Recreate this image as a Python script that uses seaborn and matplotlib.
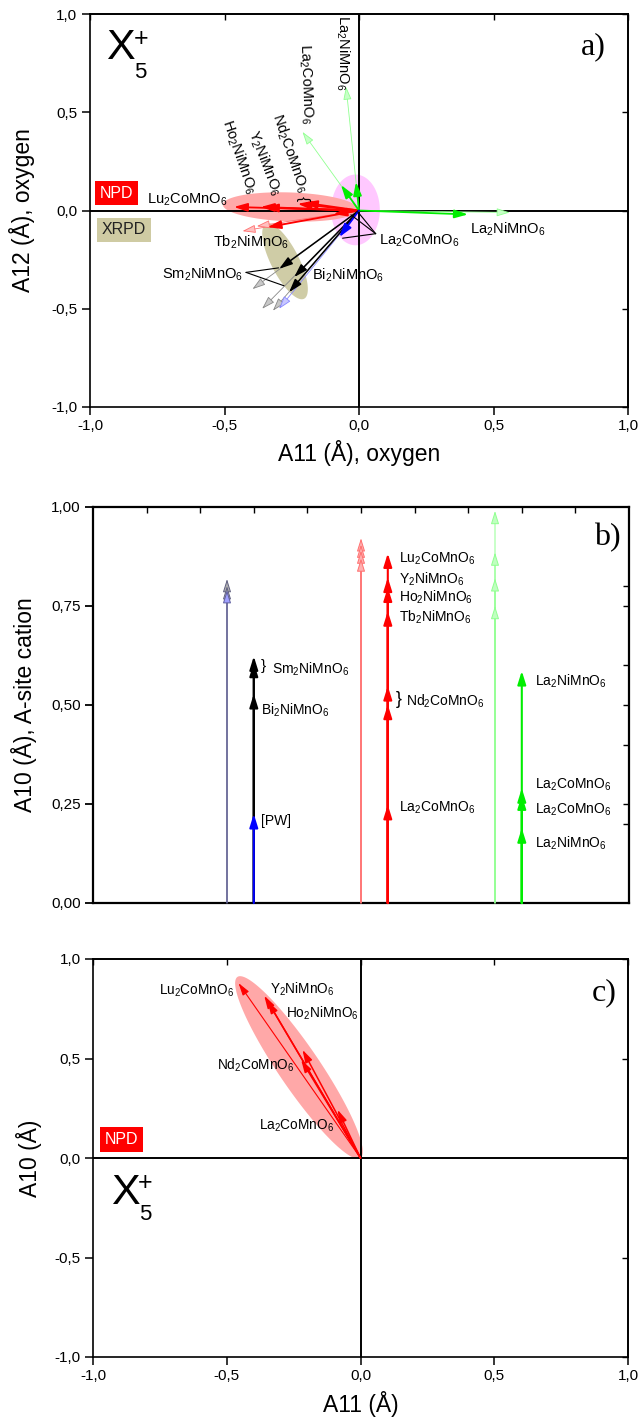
import numpy as np
import matplotlib
matplotlib.use("Agg")
import matplotlib.pyplot as plt
import seaborn as sns

# ---------------- data ----------------
# Panel a) : A11 / A12 (oxygen) amplitude vectors (arrow tips, origin at 0,0)
a_npd_x = [-0.465, -0.365, -0.35, -0.228, -0.205, -0.095, -0.34]
a_npd_y = [0.018, 0.018, 0.015, 0.034, 0.040, -0.018, -0.085]
a_npd_faint_x = [-0.433, -0.38]
a_npd_faint_y = [-0.105, -0.08]
a_green_x = [-0.067, -0.011, 0.405]
a_green_y = [0.130, 0.145, -0.020]
a_green_faint_x = [-0.048, -0.21, 0.56]
a_green_faint_y = [0.63, 0.40, -0.01]
a_black_x = [-0.297, -0.241, -0.26]
a_black_y = [-0.297, -0.339, -0.416]
a_black_faint_x = [-0.396, -0.36, -0.32]
a_black_faint_y = [-0.40, -0.50, -0.51]
a_blue_x = [-0.073]
a_blue_y = [-0.135]
a_blue_faint_x = [-0.297]
a_blue_faint_y = [-0.50]

# Panel b) : A10 (A-site cation) amplitudes, grouped columns
b_gray_faint = [0.818, 0.800]
b_blue_faint = [0.790]
b_black = [0.623, 0.607, 0.528]
b_blue = [0.225]
b_red_faint = [0.921, 0.905, 0.890, 0.870]
b_red = [0.883, 0.822, 0.797, 0.737, 0.548, 0.501, 0.248]
b_green_faint = [0.990, 0.885, 0.820, 0.750]
b_green = [0.586, 0.290, 0.272, 0.189]
b_col_x = {"xrpd_faint": -0.5, "xrpd": -0.4, "npd_faint": 0.0,
           "npd": 0.1, "green_faint": 0.5, "green": 0.6}

# Panel c) : A11 / A10 (NPD)
c_x = [-0.456, -0.36, -0.348, -0.217, -0.222, -0.086]
c_y = [0.879, 0.816, 0.790, 0.544, 0.494, 0.243]

ticks_ac = [-1.0, -0.5, 0.0, 0.5, 1.0]
ticks_b = [0.0, 0.25, 0.5, 0.75, 1.0]

# ---------------- style ----------------
sns.set_theme(style="ticks")
plt.rcParams["font.family"] = ["Liberation Sans", "DejaVu Sans"]
plt.rcParams["mathtext.fontset"] = "custom"
plt.rcParams["mathtext.rm"] = "Liberation Sans"
plt.rcParams["mathtext.it"] = "Liberation Sans"
plt.rcParams["mathtext.bf"] = "Liberation Sans:bold"
for k in ["axes.edgecolor", "xtick.color", "ytick.color", "text.color",
          "axes.labelcolor", "xtick.labelcolor", "ytick.labelcolor"]:
    plt.rcParams[k] = "black"

W, H = 638, 1425
fig = plt.figure(figsize=(W / 100, H / 100), dpi=100)


def box(l, r, t, b):
    return [l / W, 1 - b / H, (r - l) / W, (b - t) / H]


axa = fig.add_axes(box(90, 628, 14, 407))
axb = fig.add_axes(box(93, 629, 507, 903))
axc = fig.add_axes(box(93, 628, 959, 1357))


def fmt(v, nd):
    return f"{v:.{nd}f}".replace(".", ",")


def arr(ax, x, y, ec, lw, fc=None, hl=0.8, hw=0.25, x0=0.0, y0=0.0, z=4, ms=10):
    ax.annotate("", xy=(x, y), xytext=(x0, y0),
                arrowprops=dict(arrowstyle=f"-|>,head_length={hl},head_width={hw}",
                                ec=ec, fc=fc if fc is not None else ec, lw=lw,
                                shrinkA=0, shrinkB=0, mutation_scale=ms),
                zorder=z, annotation_clip=False)


def ellipse(ax, p1, p2, half_w_px, color, z=1):
    T = ax.transData
    d1 = T.transform(p1)
    d2 = T.transform(p2)
    c = (d1 + d2) / 2
    v = d2 - d1
    L = np.hypot(*v) / 2
    ang = np.arctan2(v[1], v[0])
    t = np.linspace(0, 2 * np.pi, 240)
    pts = np.c_[L * np.cos(t), half_w_px * np.sin(t)]
    R = np.array([[np.cos(ang), -np.sin(ang)], [np.sin(ang), np.cos(ang)]])
    pts = pts @ R.T + c
    d = T.inverted().transform(pts)
    ax.fill(d[:, 0], d[:, 1], color=color, lw=0, zorder=z)


def style_quad(ax, xlabel, ylabel, ylab_x):
    ax.set_xlim(-1, 1)
    ax.set_ylim(-1, 1)
    ax.set_xticks(ticks_ac)
    ax.set_xticklabels([fmt(v, 1) for v in ticks_ac])
    ax.set_yticks(ticks_ac)
    ax.set_yticklabels([fmt(v, 1) for v in ticks_ac])
    ax.tick_params(direction="out", length=6, width=1.1, labelsize=11, pad=3)
    for s in ax.spines.values():
        s.set_linewidth(1.2)
    ax.axhline(0, color="black", lw=1.4, zorder=2)
    ax.axvline(0, color="black", lw=1.4, zorder=2)
    ax.set_xlabel(xlabel, fontsize=16.5)
    ax.set_ylabel(ylabel, fontsize=16.5)
    ax.xaxis.set_label_coords(0.5, -0.085)
    ax.yaxis.set_label_coords(ylab_x, 0.5)
    sr = ax.secondary_yaxis("right")
    sr.set_yticks(ticks_ac)
    sr.tick_params(direction="in", length=4, width=1.0, labelright=False)
    st = ax.secondary_xaxis("top")
    st.set_xticks(ticks_ac)
    st.tick_params(direction="in", length=4, width=1.0, labeltop=False)


def x5(ax, xX, yX, xs, ysup, ysub):
    ax.text(xX, yX, "X", fontsize=31, ha="center", va="center", zorder=6)
    ax.text(xs, ysup, "+", fontsize=18, ha="center", va="center", zorder=6)
    ax.text(xs, ysub, "5", fontsize=16, ha="center", va="center", zorder=6)


RED, LRED = "#FF0000", "#FF7070"
GRN, LGRN = "#00EE00", "#90FF90"
BLU, LBLU = "#0000FF", "#8888FF"
GRY = "#888888"

# ================= Panel a =================
style_quad(axa, "A11 (Å), oxygen", "A12 (Å), oxygen", -0.102)
ellipse(axa, (-0.013, 0.183), (-0.013, -0.177), 24.3, "#FFC8FF", z=1)
ellipse(axa, (-0.506, 0.030), (-0.004, 0.006), 14.5, "#FFA8A8", z=1.2)
ellipse(axa, (-0.346, -0.068), (-0.204, -0.449), 14.0, "#CFCCA6", z=1.2)

for x, y in zip(a_green_faint_x, a_green_faint_y):
    arr(axa, x, y, LGRN, 0.6, fc="#C8FFC8")
for x, y in zip(a_npd_faint_x, a_npd_faint_y):
    arr(axa, x, y, LRED, 0.6, fc="#FFC0C0")
for x, y in zip(a_black_faint_x, a_black_faint_y):
    arr(axa, x, y, GRY, 0.6, fc="#C8C8C8")
for x, y in zip(a_blue_faint_x, a_blue_faint_y):
    arr(axa, x, y, LBLU, 0.6, fc="#C8C8FF")
for x, y in zip(a_npd_x, a_npd_y):
    arr(axa, x, y, RED, 1.3)
for x, y in zip(a_green_x, a_green_y):
    arr(axa, x, y, GRN, 1.3)
for x, y in zip(a_black_x, a_black_y):
    arr(axa, x, y, "black", 1.1)
for x, y in zip(a_blue_x, a_blue_y):
    arr(axa, x, y, BLU, 1.3)

# pointer lines
for (xe, ye) in [(-0.299, -0.292), (-0.279, -0.383)]:
    axa.plot([-0.42, xe], [-0.315, ye], color="black", lw=0.8, zorder=5)
for (xe, ye) in [(-0.03, -0.022), (-0.005, -0.006), (-0.061, -0.141)]:
    axa.plot([0.062, xe], [-0.118, ye], color="black", lw=0.8, zorder=5)

fs_a = 10.5
a_labels = [
    ("La$_2$NiMnO$_6$", -0.062, 0.805, -90),
    ("La$_2$CoMnO$_6$", -0.200, 0.644, -88),
    ("Nd$_2$CoMnO$_6$", -0.256, 0.290, -71),
    ("Y$_2$NiMnO$_6$", -0.350, 0.244, -69),
    ("Ho$_2$NiMnO$_6$", -0.446, 0.275, -71),
    ("Lu$_2$CoMnO$_6$", -0.638, 0.054, 0),
    ("Tb$_2$NiMnO$_6$", -0.400, -0.163, 0),
    ("Sm$_2$NiMnO$_6$", -0.583, -0.324, 0),
    ("Bi$_2$NiMnO$_6$", -0.040, -0.332, 0),
    ("La$_2$CoMnO$_6$", 0.224, -0.154, 0),
    ("La$_2$NiMnO$_6$", 0.553, -0.095, 0),
]
for s, x, y, r in a_labels:
    axa.text(x, y, s, fontsize=fs_a, ha="center", va="center", rotation=r,
             rotation_mode="anchor", zorder=6)
axa.text(-0.209, 0.062, "{", fontsize=11, rotation=-90, ha="center", va="center", zorder=6)
axa.text(-0.901, 0.089, "NPD", fontsize=11.5, color="white", ha="center", va="center",
         bbox=dict(boxstyle="square,pad=0.3", fc="#FF0000", ec="none"), zorder=6)
axa.text(-0.874, -0.099, "XRPD", fontsize=11.5, color="#222222", ha="center", va="center",
         bbox=dict(boxstyle="square,pad=0.3", fc="#CFCBA3", ec="none"), zorder=6)
x5(axa, -0.886, 0.827, -0.812, 0.874, 0.70)
axa.text(0.87, 0.835, "a)", fontsize=23, family="Liberation Serif", ha="center",
         va="center", zorder=6)

# ================= Panel b =================
axb.set_xlim(-1, 1)
axb.set_ylim(0, 1)
axb.set_yticks(ticks_b)
axb.set_yticklabels([fmt(v, 2) for v in ticks_b])
axb.set_xticks([])
axb.tick_params(axis="y", direction="out", length=6, width=1.3, labelsize=11, pad=3)
for s in axb.spines.values():
    s.set_linewidth(1.6)
axb.set_ylabel("A10 (Å), A-site cation", fontsize=16.5)
axb.yaxis.set_label_coords(-0.104, 0.5)
sbr = axb.secondary_yaxis("right")
sbr.set_yticks([0.2, 0.25, 0.4, 0.5, 0.6, 0.75, 0.8])
sbr.tick_params(direction="in", length=4, width=1.0, labelright=False)
sbt = axb.secondary_xaxis("top")
sbt.set_xticks([-0.8, -0.6, -0.4, -0.2, 0.0, 0.2, 0.4, 0.6, 0.8])
sbt.tick_params(direction="in", length=4, width=1.0, labeltop=False)

for t in b_gray_faint:
    arr(axb, b_col_x["xrpd_faint"], t, "#606080", 0.7, fc="#B0B0B0",
        x0=b_col_x["xrpd_faint"])
for t in b_blue_faint:
    arr(axb, b_col_x["xrpd_faint"], t, "#6060A0", 0.7, fc="#A0A0FF",
        x0=b_col_x["xrpd_faint"])
for t in b_black:
    arr(axb, b_col_x["xrpd"], t, "black", 1.5, x0=b_col_x["xrpd"])
for t in b_blue:
    arr(axb, b_col_x["xrpd"], t, BLU, 1.5, x0=b_col_x["xrpd"], z=5)
for t in b_red_faint:
    arr(axb, b_col_x["npd_faint"], t, LRED, 0.7, fc="#FFB0B0", x0=b_col_x["npd_faint"])
for t in b_red:
    arr(axb, b_col_x["npd"], t, RED, 1.5, x0=b_col_x["npd"])
for t in b_green_faint:
    arr(axb, b_col_x["green_faint"], t, LGRN, 0.7, fc="#C0FFC0", x0=b_col_x["green_faint"])
for t in b_green:
    arr(axb, b_col_x["green"], t, GRN, 1.5, x0=b_col_x["green"])

fs_b = 10
b_labels = [
    ("Lu$_2$CoMnO$_6$", 0.143, 0.870),
    ("Y$_2$NiMnO$_6$", 0.143, 0.818),
    ("Ho$_2$NiMnO$_6$", 0.143, 0.771),
    ("Tb$_2$NiMnO$_6$", 0.143, 0.721),
    ("Nd$_2$CoMnO$_6$", 0.168, 0.510),
    ("La$_2$CoMnO$_6$", 0.143, 0.240),
    ("La$_2$NiMnO$_6$", 0.649, 0.560),
    ("La$_2$CoMnO$_6$", 0.649, 0.299),
    ("La$_2$CoMnO$_6$", 0.649, 0.235),
    ("La$_2$NiMnO$_6$", 0.649, 0.151),
    ("Sm$_2$NiMnO$_6$", -0.333, 0.589),
    ("Bi$_2$NiMnO$_6$", -0.373, 0.487),
    ("[PW]", -0.373, 0.206),
]
for s, x, y in b_labels:
    axb.text(x, y, s, fontsize=fs_b, ha="left", va="center", zorder=6)
axb.text(0.139, 0.513, "}", fontsize=13, ha="center", va="center", zorder=6)
axb.text(-0.364, 0.599, "}", fontsize=11, ha="center", va="center", zorder=6)
axb.text(0.92, 0.923, "b)", fontsize=23, family="Liberation Serif", ha="center",
         va="center", zorder=6)

# ================= Panel c =================
style_quad(axc, "A11 (Å)", "A10 (Å)", -0.095)
ellipse(axc, (0.0, 0.0), (-0.46, 0.91), 20.6, "#FFA8A8", z=1)
c_lw = [0.8, 1.1, 1.1, 1.1, 1.1, 1.1]
for x, y, w in zip(c_x, c_y, c_lw):
    arr(axc, x, y, RED, w, hl=0.75, hw=0.22)
fs_c = 9.8
c_labels = [
    ("Lu$_2$CoMnO$_6$", -0.613, 0.842),
    ("Y$_2$NiMnO$_6$", -0.217, 0.849),
    ("Ho$_2$NiMnO$_6$", -0.142, 0.729),
    ("Nd$_2$CoMnO$_6$", -0.391, 0.464),
    ("La$_2$CoMnO$_6$", -0.238, 0.164),
]
for s, x, y in c_labels:
    axc.text(x, y, s, fontsize=fs_c, ha="center", va="center", zorder=6)
axc.text(-0.893, 0.094, "NPD", fontsize=11.5, color="white", ha="center", va="center",
         bbox=dict(boxstyle="square,pad=0.3", fc="#FF0000", ec="none"), zorder=6)
x5(axc, -0.879, -0.174, -0.806, -0.127, -0.285)
axc.text(0.91, 0.83, "c)", fontsize=23, family="Liberation Serif", ha="center",
         va="center", zorder=6)

fig.savefig("out.png", dpi=100)
